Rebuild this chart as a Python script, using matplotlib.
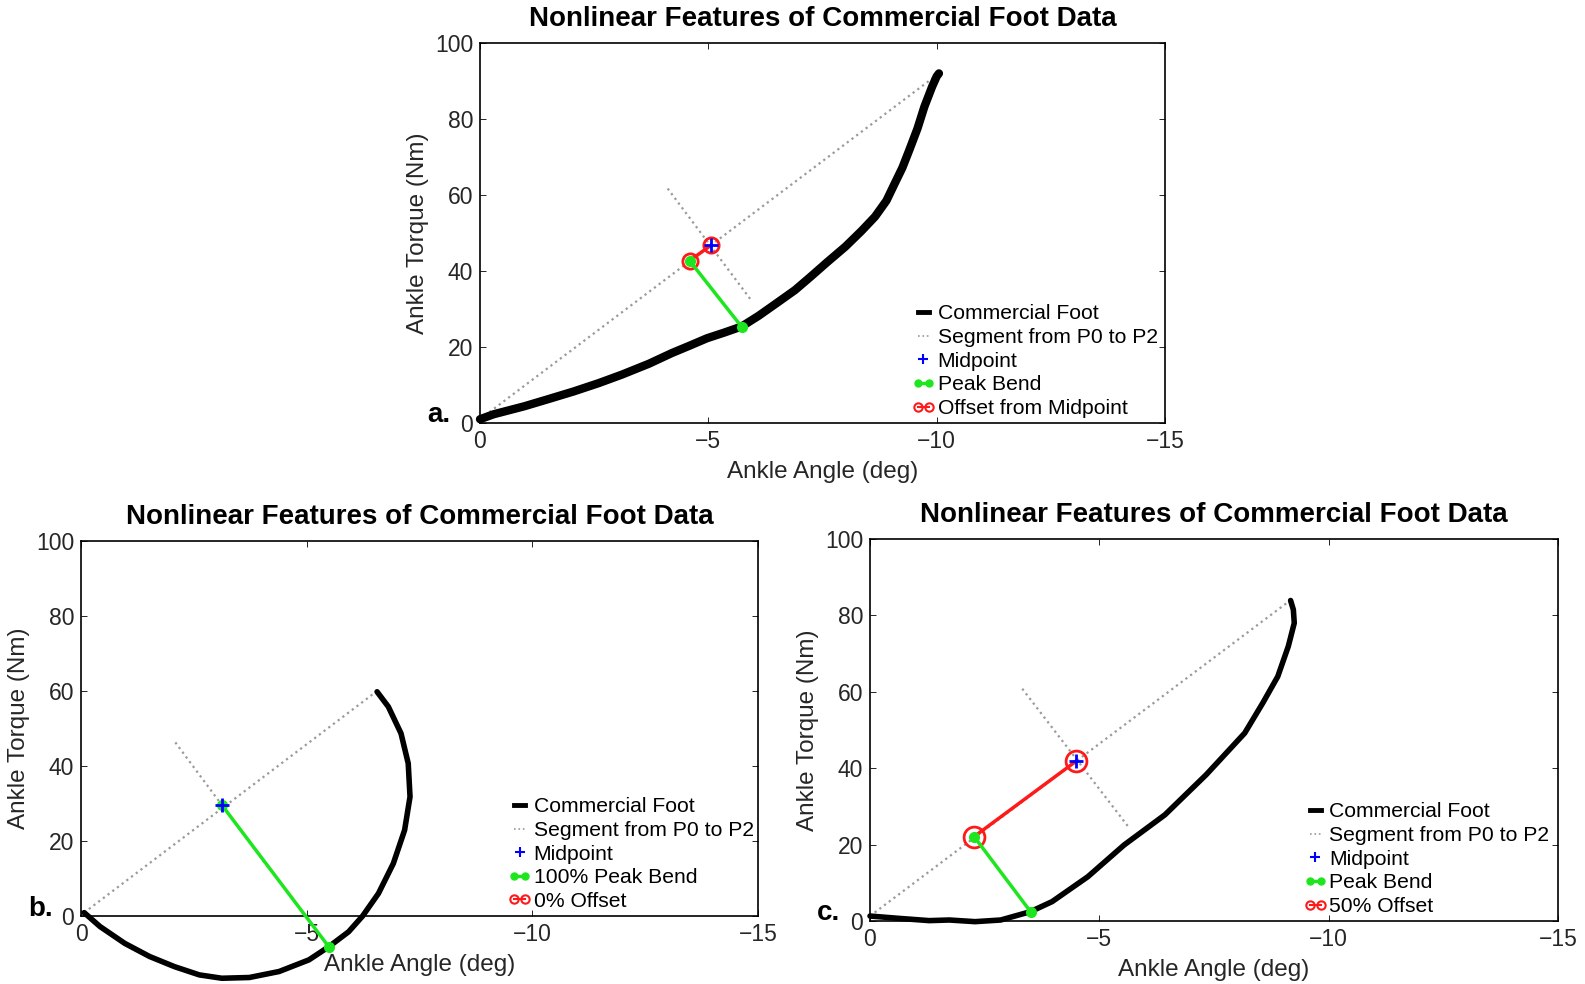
import numpy as np
import matplotlib.pyplot as plt
from matplotlib.lines import Line2D
from matplotlib.legend_handler import HandlerLine2D

# =============================================================================
# Datos (ángulo en grados, par en Nm)
# =============================================================================
# Panel a: datos del pie comercial
angulo_a = [0.0, -0.3, -0.97, -1.5, -2.05, -2.6, -3.1, -3.7, -4.2, -4.6, -4.97, -5.35,
            -5.73, -6.1, -6.49, -6.9, -7.24, -7.6, -8.0, -8.35, -8.65, -8.9, -9.08,
            -9.25, -9.4, -9.58, -9.73, -9.9, -10.0, -10.05]
par_a = [1.0, 2.3, 4.4, 6.3, 8.3, 10.5, 12.7, 15.6, 18.4, 20.4, 22.3, 23.8,
         25.4, 28.2, 31.5, 35.0, 38.5, 42.3, 46.4, 50.5, 54.3, 58.5, 63.0,
         67.2, 71.8, 77.5, 83.2, 88.5, 91.2, 92.0]
p0_a = (0.0, 1.0)
p2_a = (-10.05, 92.0)
medio_a = (-5.06, 46.8)
perp_a = ([-4.11, -5.92], [61.7, 32.6])
offset_a = (-4.59, 42.7)
pico_a = (-5.73, 25.3)

# Panel b: arco sintético (100% pico, 0% offset)
angulo_b = [-0.07, -0.42, -0.97, -1.52, -2.07, -2.62, -3.12, -3.73, -4.39, -5.05,
            -5.49, -5.93, -6.24, -6.59, -6.92, -7.17, -7.29, -7.25, -7.09, -6.81, -6.56]
par_b = [0.9, -2.8, -7.3, -10.8, -13.5, -15.7, -16.6, -16.4, -14.8, -11.7,
         -8.2, -4.2, 0.0, 6.0, 14.0, 22.9, 31.8, 40.7, 48.7, 55.8, 59.8]
p0_b = (-0.07, 0.9)
p2_b = (-6.56, 60.0)
medio_b = (-3.12, 29.6)
perp_b = ([-2.09, -4.15], [46.3, 12.9])
offset_b = (-3.12, 29.6)
pico_b = (-5.49, -8.2)

# Panel c: arco sintético (50% offset)
angulo_c = [0.0, -0.62, -1.29, -1.73, -2.29, -2.85, -3.5, -3.97, -4.75, -5.54,
            -6.43, -7.33, -8.17, -8.56, -8.89, -9.12, -9.25, -9.23, -9.17]
par_c = [1.3, 0.7, 0.1, 0.26, -0.17, 0.26, 2.45, 5.07, 11.6, 19.9,
         27.8, 38.3, 49.2, 57.0, 64.0, 71.9, 78.0, 81.5, 83.9]
p0_c = (0.0, 1.3)
p2_c = (-9.17, 84.0)
medio_c = (-4.5, 41.9)
perp_c = ([-3.32, -5.63], [60.8, 24.7])
offset_c = (-2.27, 22.1)
pico_c = (-3.5, 2.45)

xticks = [0, -5, -10, -15]
yticks = [0, 20, 40, 60, 80, 100]

# =============================================================================
# Estilo general
# =============================================================================
plt.rcParams['font.family'] = ['Liberation Sans', 'DejaVu Sans']
VERDE = '#1ee61e'
ROJO = '#ff1a1a'
AZUL = '#0000ff'
GRIS = '#9a9a9a'
TEXTO = '#262626'

fig = plt.figure(figsize=(15.85, 9.84), dpi=100)
W, H = 1585, 984


def crear_ejes(x0, x1, y0, y1):
    """Crea ejes a partir de coordenadas en píxeles (arriba-izquierda)"""
    return fig.add_axes([x0 / W, 1 - y1 / H, (x1 - x0) / W, (y1 - y0) / H])


def dibujar_panel(ax, angulo, par, p0, p2, medio, perp, offset, pico,
                  etiquetas, letra, ancho_curva, tam_circ, mostrar_offset):
    ax.plot(angulo, par, color='black', lw=ancho_curva, solid_capstyle='round',
            solid_joinstyle='round', clip_on=False, zorder=3)
    ax.plot([p0[0], p2[0]], [p0[1], p2[1]], color=GRIS, ls=':', lw=1.6, zorder=2)
    ax.plot(perp[0], perp[1], color=GRIS, ls=':', lw=1.6, zorder=2)
    if mostrar_offset:
        ax.plot([offset[0], medio[0]], [offset[1], medio[1]], color=ROJO, lw=2.5,
                marker='o', mfc='none', mec=ROJO, ms=tam_circ, mew=2, zorder=4)
    ax.plot([offset[0], pico[0]], [offset[1], pico[1]], color=VERDE, lw=2.5,
            marker='o', ms=7, mfc=VERDE, mec=VERDE, clip_on=False, zorder=5)
    ax.plot([medio[0]], [medio[1]], marker='+', color=AZUL, ms=10, mew=2, zorder=6)

    ax.set_xlim(0, -15)
    ax.set_ylim(0, 100)
    ax.set_xticks(xticks)
    ax.set_yticks(yticks)
    ax.tick_params(direction='in', top=True, right=True, length=4, width=0.6,
                   labelsize=16.5, labelcolor=TEXTO, pad=5)
    for s in ax.spines.values():
        s.set_linewidth(1.2)
    ax.set_xlabel('Ankle Angle (deg)', fontsize=17.5, color=TEXTO, labelpad=6)
    ax.set_ylabel('Ankle Torque (Nm)', fontsize=17.5, color=TEXTO, labelpad=4)
    ax.set_title('Nonlinear Features of Commercial Foot Data', fontsize=20,
                 fontweight='bold', pad=12)
    ax.text(-0.06, 0.02, letra, transform=ax.transAxes, fontsize=20,
            fontweight='bold', ha='center', va='center')

    # Leyenda
    h_curva = Line2D([], [], color='black', lw=3.5)
    h_seg = Line2D([], [], color=GRIS, ls=':', lw=1.2)
    h_medio = Line2D([], [], color=AZUL, marker='+', ls='none', ms=7, mew=1.5)
    h_pico = Line2D([], [], color=VERDE, lw=2.5, marker='o', ms=5)
    h_off = Line2D([], [], color=ROJO, lw=1.5, marker='o', ms=6, mfc='none', mew=1.5)
    ax.legend([h_curva, h_seg, h_medio, h_pico, h_off], etiquetas,
              loc='lower left', bbox_to_anchor=(0.612, -0.02), frameon=False,
              fontsize=15.2, handlelength=1.1, handletextpad=0.12,
              labelspacing=0.22, numpoints=2, borderaxespad=0.2,
              handler_map={h_medio: HandlerLine2D(numpoints=1)})


ax_a = crear_ejes(480, 1165, 43, 423)
dibujar_panel(ax_a, angulo_a, par_a, p0_a, p2_a, medio_a, perp_a, offset_a, pico_a,
              ['Commercial Foot', 'Segment from P0 to P2', 'Midpoint', 'Peak Bend',
               'Offset from Midpoint'], 'a.', 6, 11, True)

ax_b = crear_ejes(81, 758, 541, 916)
dibujar_panel(ax_b, angulo_b, par_b, p0_b, p2_b, medio_b, perp_b, offset_b, pico_b,
              ['Commercial Foot', 'Segment from P0 to P2', 'Midpoint', '100% Peak Bend',
               '0% Offset'], 'b.', 4, 11, False)

ax_c = crear_ejes(870, 1558, 539, 921)
dibujar_panel(ax_c, angulo_c, par_c, p0_c, p2_c, medio_c, perp_c, offset_c, pico_c,
              ['Commercial Foot', 'Segment from P0 to P2', 'Midpoint', 'Peak Bend',
               '50% Offset'], 'c.', 4, 15, True)

plt.savefig('out.png', dpi=100)
